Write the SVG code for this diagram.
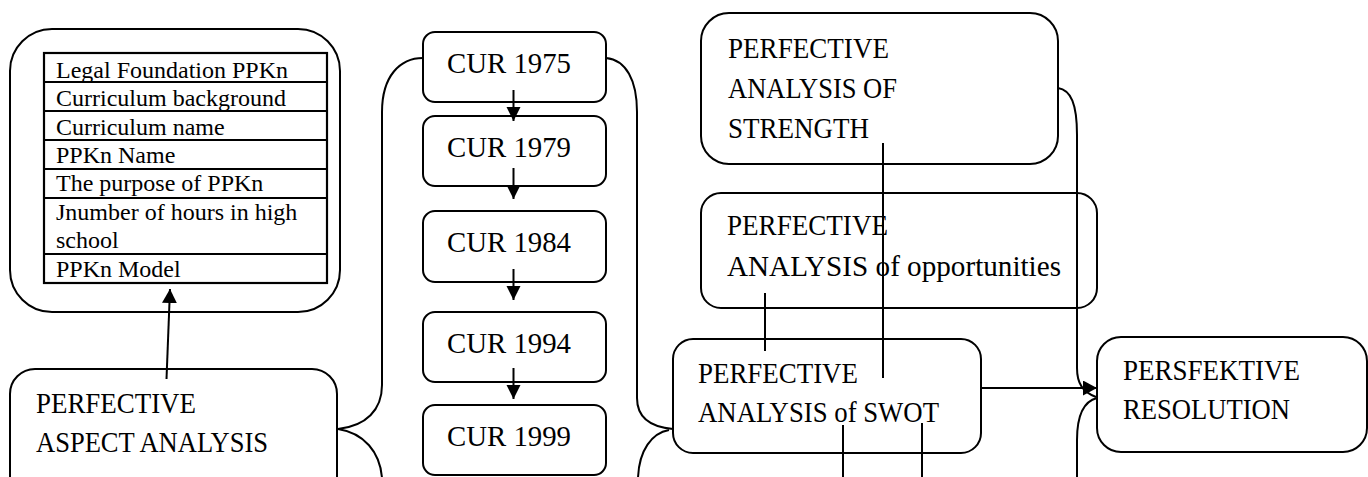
<svg xmlns="http://www.w3.org/2000/svg" width="1368" height="477" viewBox="0 0 1368 477" font-family="'Liberation Serif', 'Times New Roman', Times, serif">
<style>
.box{fill:#fff;stroke:#000;stroke-width:2}
.tbl{fill:none;stroke:#000;stroke-width:2.2}
text{font-family:'Liberation Serif', 'Times New Roman', Times, serif;fill:#000}
.big{font-size:30px}
.sm{font-size:24px}
.ln{fill:none;stroke:#000;stroke-width:2}
</style>
<defs>
<marker id="ah" markerUnits="userSpaceOnUse" markerWidth="16" markerHeight="16" refX="14" refY="7.5" orient="auto" viewBox="0 0 16 16">
<path d="M0,0 L14,7.5 L0,15 z" fill="#000"/>
</marker>
<marker id="ahs" markerUnits="userSpaceOnUse" markerWidth="16" markerHeight="16" refX="14" refY="7.5" orient="auto" viewBox="0 0 16 16">
<path d="M0,0.5 L14,7.5 L0,14.5 z" fill="#000"/>
</marker>
</defs>

<g id="aspects">
<rect class="box" x="10" y="29" width="330" height="283" rx="42"/>
<rect class="tbl" x="44" y="53" width="283" height="230"/>
<path class="tbl" d="M44,82H327M44,111H327M44,140H327M44,169H327M44,198H327M44,254H327"/>
<text class="sm" x="56" y="78">Legal Foundation PPKn</text>
<text class="sm" x="56" y="106">Curriculum background</text>
<text class="sm" x="56" y="135">Curriculum name</text>
<text class="sm" x="56" y="163">PPKn Name</text>
<text class="sm" x="56" y="191">The purpose of PPKn</text>
<text class="sm" x="56" y="220">Jnumber of hours in high</text>
<text class="sm" x="56" y="248">school</text>
<text class="sm" x="56" y="277">PPKn Model</text>
</g>

<g id="aspect-analysis">
<rect class="box" x="10" y="369" width="327" height="140" rx="25"/>
<text class="big" x="36" y="413" textLength="160" lengthAdjust="spacingAndGlyphs">PERFECTIVE</text>
<text class="big" x="36" y="452" textLength="232" lengthAdjust="spacingAndGlyphs">ASPECT ANALYSIS</text>
</g>

<g id="cur1975">
<rect class="box" x="423" y="32" width="183" height="70" rx="12"/>
<text class="big" x="447" y="73" textLength="124" lengthAdjust="spacingAndGlyphs">CUR 1975</text>
</g>
<g id="cur1979">
<rect class="box" x="423" y="116" width="183" height="70" rx="12"/>
<text class="big" x="447" y="157" textLength="124" lengthAdjust="spacingAndGlyphs">CUR 1979</text>
</g>
<g id="cur1984">
<rect class="box" x="423" y="211" width="183" height="71" rx="12"/>
<text class="big" x="447" y="252" textLength="124" lengthAdjust="spacingAndGlyphs">CUR 1984</text>
</g>
<g id="cur1994">
<rect class="box" x="423" y="312" width="183" height="70" rx="12"/>
<text class="big" x="447" y="353" textLength="124" lengthAdjust="spacingAndGlyphs">CUR 1994</text>
</g>
<g id="cur1999">
<rect class="box" x="423" y="405" width="183" height="70" rx="12"/>
<text class="big" x="447" y="446" textLength="124" lengthAdjust="spacingAndGlyphs">CUR 1999</text>
</g>

<g id="strength">
<rect class="box" x="701" y="13" width="357" height="151" rx="28"/>
<text class="big" x="728" y="58" textLength="161" lengthAdjust="spacingAndGlyphs">PERFECTIVE</text>
<text class="big" x="728" y="98" textLength="169" lengthAdjust="spacingAndGlyphs">ANALYSIS OF</text>
<text class="big" x="728" y="138" textLength="141" lengthAdjust="spacingAndGlyphs">STRENGTH</text>
</g>

<g id="opportunities">
<rect class="box" x="701" y="193" width="396" height="115" rx="20"/>
<text class="big" x="727" y="235" textLength="161" lengthAdjust="spacingAndGlyphs">PERFECTIVE</text>
<text class="big" x="727" y="276" textLength="334" lengthAdjust="spacingAndGlyphs">ANALYSIS of opportunities</text>
</g>

<g id="swot">
<rect class="box" x="673" y="339" width="308" height="114" rx="20"/>
<text class="big" x="698" y="383" textLength="160" lengthAdjust="spacingAndGlyphs">PERFECTIVE</text>
<text class="big" x="698" y="422" textLength="241" lengthAdjust="spacingAndGlyphs">ANALYSIS of SWOT</text>
</g>

<g id="resolution">
<rect class="box" x="1097" y="337" width="270" height="115" rx="24"/>
<text class="big" x="1123" y="380" textLength="177" lengthAdjust="spacingAndGlyphs">PERSFEKTIVE</text>
<text class="big" x="1123" y="419" textLength="167" lengthAdjust="spacingAndGlyphs">RESOLUTION</text>
</g>

<g id="connectors">
<path class="ln" d="M166.5,379 L170,289" marker-end="url(#ah)"/>
<path class="ln" d="M513.5,90 L513.5,121" marker-end="url(#ahs)"/>
<path class="ln" d="M513.5,168 L513.5,199" marker-end="url(#ahs)"/>
<path class="ln" d="M513.5,269 L513.5,300" marker-end="url(#ahs)"/>
<path class="ln" d="M513.5,368 L513.5,399" marker-end="url(#ahs)"/>
<path class="ln" d="M338,429 C366,426 382,410 382,385 L382,112 C382,76 400,58 423,58"/>
<path class="ln" d="M338,429 C364,433 380,452 382,478"/>
<path class="ln" d="M606,58 C626,60 637,80 637,112 L637,398 C637,418 650,427 673,429"/>
<path class="ln" d="M669,430 C652,433 639,450 638,478"/>
<path class="ln" d="M883,143 L883,378"/>
<path class="ln" d="M765,293 L765,351"/>
<path class="ln" d="M843,425 L843,478"/>
<path class="ln" d="M922,423 L922,478"/>
<path class="ln" d="M981,388 L1097,388" marker-end="url(#ah)"/>
<path class="ln" d="M1058,88 C1071,90 1077,104 1077,135 L1077,368 C1077,384 1083,392 1096,397"/>
<path class="ln" d="M1097,398 C1085,401 1077,414 1077,440 L1077,478"/>
</g>
</svg>
